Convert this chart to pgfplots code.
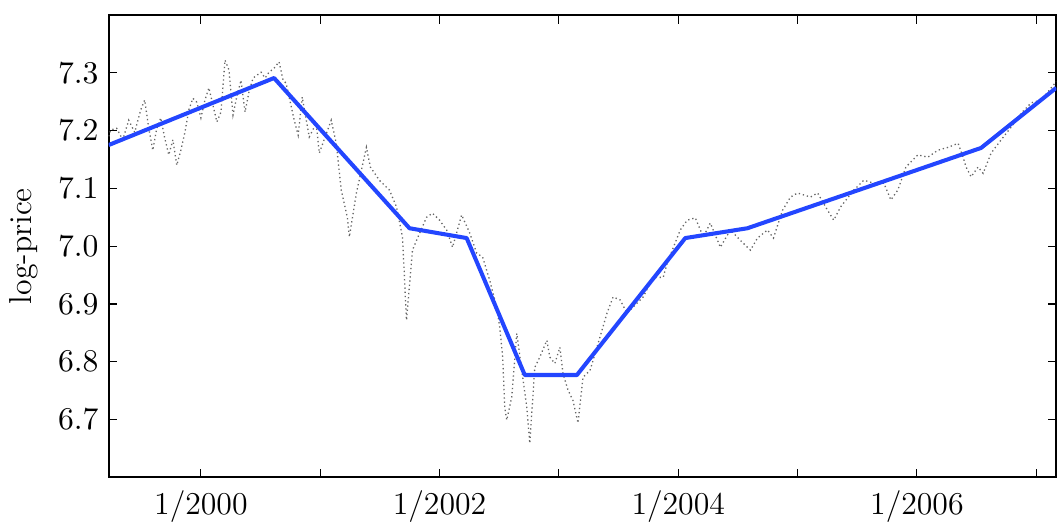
\documentclass[border=0pt]{standalone}
\usepackage{pgfplots}
\pgfplotsset{compat=1.18}
\definecolor{trendblue}{RGB}{35,70,255}
\begin{document}
\begin{tikzpicture}
\begin{axis}[
  name=ax,
  scale only axis,
  width=328pt, height=160pt,
  xmin=1999.227, xmax=2007.168,
  ymin=6.60, ymax=7.40,
  xtick={2000,2001,2002,2003,2004,2005,2006,2007},
  xticklabels={1/2000,,1/2002,,1/2004,,1/2006,},
  ytick={6.7,6.8,6.9,7.0,7.1,7.2,7.3},
  yticklabel style={/pgf/number format/.cd,fixed,fixed zerofill,precision=1},
  ylabel={log-price},
  ylabel style={font=\fontsize{11}{13}\selectfont, yshift=0pt},
  axis line style={line width=0.8pt},
  tick style={line width=0.4pt, black},
  major tick length=3pt,
  tick label style={font=\fontsize{11}{13}\selectfont},
  xticklabel style={yshift=-1pt},
  clip=true,
]
\addplot[gray!80!black, densely dotted, line width=0.45pt] coordinates {
(1999.227,7.190) (1999.244,7.201) (1999.294,7.204) (1999.345,7.184) (1999.395,7.218)
(1999.445,7.197) (1999.496,7.236) (1999.529,7.253) (1999.563,7.204) (1999.597,7.166)
(1999.630,7.204) (1999.664,7.222) (1999.697,7.187) (1999.731,7.158) (1999.765,7.184)
(1999.798,7.140) (1999.832,7.166) (1999.866,7.197) (1999.899,7.236) (1999.933,7.256)
(1999.966,7.249) (2000.000,7.222) (2000.034,7.253) (2000.067,7.274) (2000.101,7.244)
(2000.134,7.215) (2000.168,7.232) (2000.202,7.322) (2000.235,7.305) (2000.269,7.227)
(2000.303,7.261) (2000.336,7.287) (2000.370,7.232) (2000.403,7.267) (2000.437,7.291)
(2000.471,7.296) (2000.504,7.301) (2000.538,7.291) (2000.571,7.301) (2000.613,7.308)
(2000.655,7.319) (2000.689,7.287) (2000.714,7.282) (2000.782,7.218) (2000.815,7.192)
(2000.849,7.258) (2000.908,7.189) (2000.966,7.213) (2000.992,7.161) (2001.092,7.218)
(2001.134,7.178) (2001.176,7.097) (2001.227,7.050) (2001.244,7.016) (2001.303,7.092)
(2001.387,7.171) (2001.420,7.137) (2001.496,7.114) (2001.580,7.097) (2001.639,7.068)
(2001.689,7.016) (2001.706,6.946) (2001.714,6.907) (2001.723,6.872) (2001.773,6.993)
(2001.807,7.010) (2001.891,7.050) (2001.941,7.057) (2002.000,7.045) (2002.059,7.028)
(2002.109,6.998) (2002.185,7.054) (2002.252,7.023) (2002.311,6.988) (2002.361,6.981)
(2002.420,6.941) (2002.479,6.894) (2002.504,6.860) (2002.529,6.808) (2002.546,6.721)
(2002.563,6.699) (2002.605,6.739) (2002.647,6.849) (2002.689,6.785) (2002.731,6.721)
(2002.756,6.659) (2002.798,6.790) (2002.840,6.808) (2002.899,6.837) (2002.924,6.808)
(2002.966,6.797) (2003.008,6.825) (2003.034,6.780) (2003.076,6.751) (2003.118,6.733)
(2003.160,6.694) (2003.202,6.773) (2003.261,6.785) (2003.319,6.825) (2003.403,6.884)
(2003.454,6.912) (2003.513,6.907) (2003.571,6.884) (2003.706,6.912) (2003.790,6.946)
(2003.874,6.946) (2003.908,6.971) (2004.017,7.028) (2004.076,7.045) (2004.143,7.049)
(2004.210,7.016) (2004.269,7.040) (2004.353,6.998) (2004.437,7.028) (2004.521,7.010)
(2004.605,6.993) (2004.664,7.014) (2004.748,7.028) (2004.798,7.014) (2004.874,7.062)
(2004.941,7.085) (2005.000,7.092) (2005.109,7.085) (2005.168,7.092) (2005.252,7.062)
(2005.303,7.045) (2005.361,7.068) (2005.471,7.097) (2005.555,7.114) (2005.639,7.109)
(2005.723,7.109) (2005.782,7.080) (2005.840,7.097) (2005.908,7.137) (2006.008,7.158)
(2006.092,7.154) (2006.176,7.166) (2006.261,7.171) (2006.345,7.178) (2006.387,7.154)
(2006.412,7.137) (2006.454,7.120) (2006.513,7.137) (2006.555,7.126) (2006.622,7.161)
(2006.706,7.184) (2006.790,7.206) (2006.874,7.230) (2006.958,7.248) (2007.042,7.253)
(2007.126,7.274) (2007.168,7.285)
};
\addplot[trendblue, line width=1.4pt, line join=round] coordinates {
(1999.227,7.175) (2000.613,7.291) (2001.748,7.031) (2002.227,7.014)
(2002.714,6.777) (2003.151,6.777) (2004.059,7.014) (2004.580,7.031)
(2006.538,7.170) (2007.168,7.274)
};
\end{axis}
\path ([yshift=5.2pt]ax.north);
\path ([xshift=0.6pt]ax.east);
\end{tikzpicture}
\end{document}
